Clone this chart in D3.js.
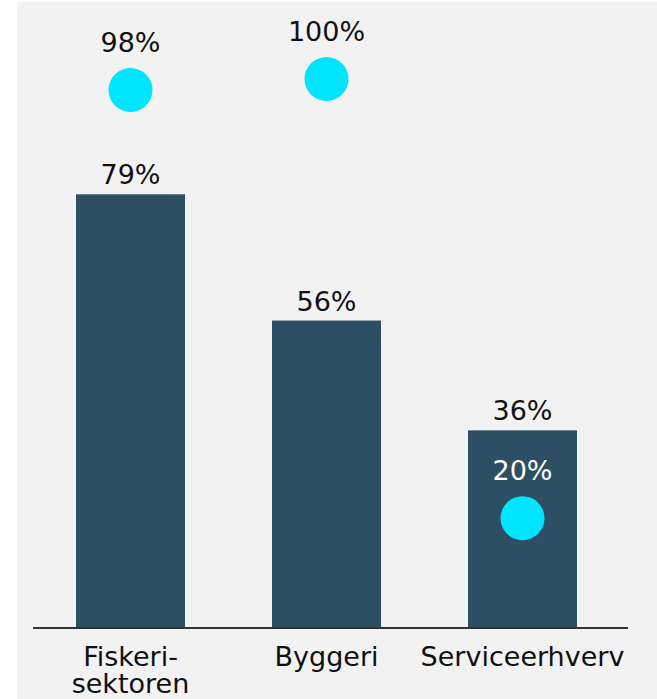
<!DOCTYPE html>
<html>
<head>
<meta charset="utf-8">
<script src="https://cdn.jsdelivr.net/npm/d3@7"></script>
<style>
  body { margin: 0; background: #fff; }
  text { font-family: "DejaVu Sans", sans-serif; }
</style>
</head>
<body>
<div id="chart"></div>
<script>
const categories = ["Fiskeri-sektoren", "Byggeri", "Serviceerhverv"];
const tickLines = [["Fiskeri-", "sektoren"], ["Byggeri"], ["Serviceerhverv"]];
const barValues = [79, 56, 36];
const dotValues = [98, 100, 20];

const width = 657;
const height = 699;
const baseline = 628;

const svg = d3.select("#chart").append("svg")
    .attr("width", width)
    .attr("height", height);

svg.append("rect")
    .attr("x", 17).attr("y", 2)
    .attr("width", width - 17).attr("height", height - 2)
    .attr("fill", "#f2f2f2");

const x = d3.scaleBand()
    .domain(categories)
    .range([32.5, 620.5])
    .paddingInner(0.444)
    .paddingOuter(0.222);

const y = d3.scaleLinear()
    .domain([0, 100])
    .range([baseline, baseline - 549]);

// bars
svg.append("g")
    .selectAll("rect")
    .data(barValues)
    .join("rect")
    .attr("x", (d, i) => x(categories[i]))
    .attr("y", d => y(d))
    .attr("width", x.bandwidth())
    .attr("height", d => y(0) - y(d))
    .attr("fill", "#2c4f64");

// bar labels
svg.append("g")
    .selectAll("text")
    .data(barValues)
    .join("text")
    .attr("x", (d, i) => x(categories[i]) + x.bandwidth() / 2)
    .attr("y", d => y(d) - 10)
    .attr("text-anchor", "middle")
    .attr("font-size", 27)
    .attr("fill", "#111")
    .text(d => d + "%");

// dots
svg.append("g")
    .selectAll("circle")
    .data(dotValues)
    .join("circle")
    .attr("cx", (d, i) => x(categories[i]) + x.bandwidth() / 2)
    .attr("cy", d => y(d))
    .attr("r", 22)
    .attr("fill", "#00e5ff");

// dot labels
svg.append("g")
    .selectAll("text")
    .data(dotValues)
    .join("text")
    .attr("x", (d, i) => x(categories[i]) + x.bandwidth() / 2)
    .attr("y", d => y(d) - 38)
    .attr("text-anchor", "middle")
    .attr("font-size", 27)
    .attr("fill", (d, i) => barValues[i] > d ? "#fff" : "#111")
    .text(d => d + "%");

// x axis
const xAxis = d3.axisBottom(x).tickSize(0).tickFormat("");
const gx = svg.append("g")
    .attr("transform", `translate(0,${baseline})`)
    .call(xAxis);
gx.select(".domain").remove();
gx.append("line")
    .attr("x1", 33).attr("x2", 628)
    .attr("stroke", "#333")
    .attr("stroke-width", 2);

gx.selectAll(".tick").each(function (d, i) {
    const t = d3.select(this).append("text")
        .attr("text-anchor", "middle")
        .attr("fill", "#111")
        .attr("font-size", 27)
        .attr("y", 38);
    tickLines[i].forEach((line, j) => {
        t.append("tspan")
            .attr("x", 0)
            .attr("dy", j === 0 ? 0 : 27)
            .text(line);
    });
});
</script>
</body>
</html>
